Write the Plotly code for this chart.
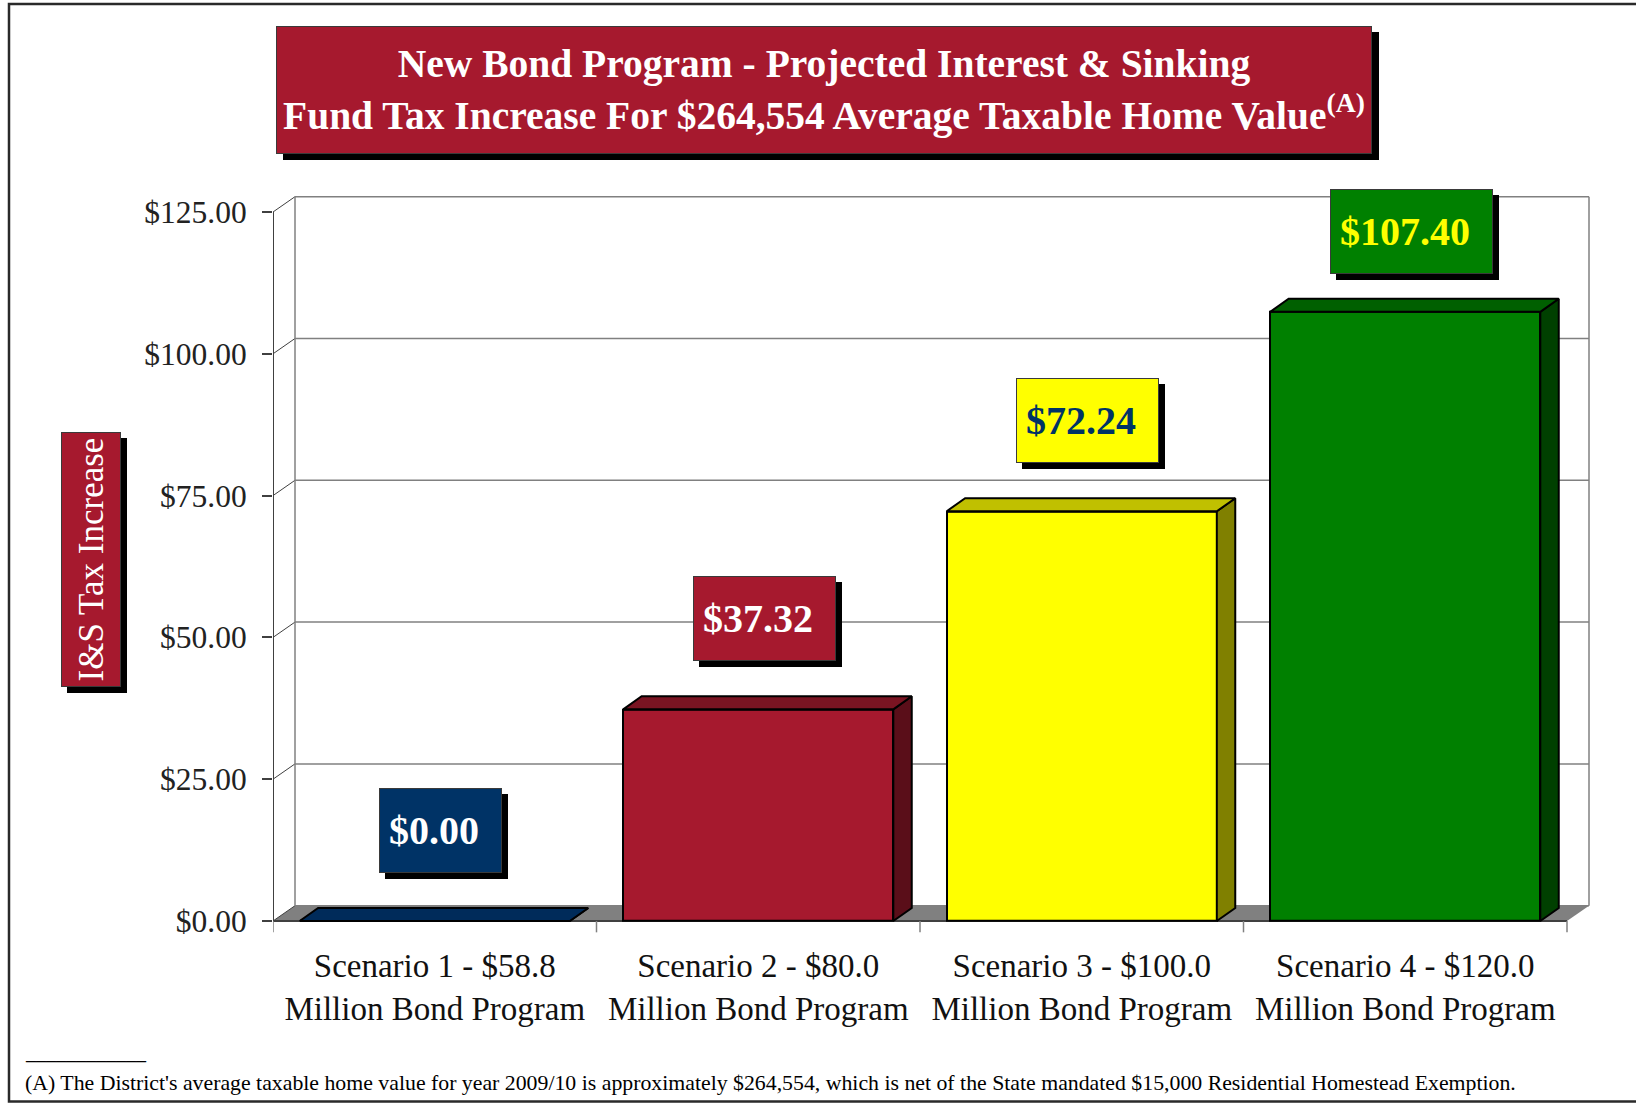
import plotly.graph_objects as go

# ---------------- data ----------------
categories = [
    "Scenario 1 - $58.8<br>Million Bond Program",
    "Scenario 2 - $80.0<br>Million Bond Program",
    "Scenario 3 - $100.0<br>Million Bond Program",
    "Scenario 4 - $120.0<br>Million Bond Program",
]
values = [0.00, 37.32, 72.24, 107.40]
value_labels = ["$0.00", "$37.32", "$72.24", "$107.40"]
y_ticks = [0, 25, 50, 75, 100, 125]
y_tick_labels = ["$0.00", "$25.00", "$50.00", "$75.00", "$100.00", "$125.00"]

title_line1 = "New Bond Program - Projected Interest & Sinking"
title_line2 = "Fund Tax Increase For $264,554 Average Taxable Home Value"
y_title = "I&S Tax Increase"
footnote = ("(A) The District's average taxable home value for year 2009/10 is approximately "
            "$264,554, which is net of the State mandated $15,000 Residential Homestead Exemption.")

# ---------------- styles ----------------
front_colors = ["#002B5A", "#A6192E", "#FFFF00", "#008000"]
top_colors = ["#002B5A", "#7A1422", "#C0C000", "#006000"]
side_colors = ["#001A36", "#5A0E19", "#808000", "#004000"]
label_bg = ["#003366", "#A6192E", "#FFFF00", "#008000"]
label_fg = ["#FFFFFF", "#FFFFFF", "#003366", "#FFFF00"]
CRIMSON = "#A6192E"
SERIF = "Liberation Serif"

W = 0.835      # bar width (category units)
BDX, BDY = 0.057, 2.3   # bar depth offset
WDX, WDY = 0.068, 2.7   # wall depth offset
FIG_W, FIG_H = 1636, 1103

n = len(categories)
xs_idx = list(range(n))

fig = go.Figure()

# front faces of the bars
fig.add_trace(go.Bar(
    x=xs_idx, y=values, width=W,
    marker=dict(color=front_colors, line=dict(color="black", width=2)),
    hoverinfo="skip", showlegend=False,
))

# tops and sides of bars (3D look), derived from values
for i, v in enumerate(values):
    l, r = i - W / 2, i + W / 2
    fig.add_trace(go.Scatter(
        x=[r, r + BDX, r + BDX, r, r], y=[0, BDY, v + BDY, v, 0],
        mode="lines", fill="toself", fillcolor=side_colors[i],
        line=dict(color="black", width=2), hoverinfo="skip", showlegend=False))
    fig.add_trace(go.Scatter(
        x=[l, r, r + BDX, l + BDX, l], y=[v, v, v + BDY, v + BDY, v],
        mode="lines", fill="toself", fillcolor=top_colors[i],
        line=dict(color="black", width=2), hoverinfo="skip", showlegend=False))

shapes = []
x_lo, x_hi = -0.5, n - 0.5
ymax = y_ticks[-1]
# floor
shapes.append(dict(
    type="path", xref="x", yref="y", layer="below",
    path=f"M {x_lo},0 L {x_hi},0 L {x_hi + WDX},{WDY} L {x_lo + WDX},{WDY} Z",
    fillcolor="#808080", line=dict(width=0)))
# back wall gridlines and side diagonals
for v in y_ticks:
    shapes.append(dict(type="line", xref="x", yref="y", layer="below",
                       x0=x_lo + WDX, x1=x_hi + WDX, y0=v + WDY, y1=v + WDY,
                       line=dict(color="#808080", width=1.5)))
    shapes.append(dict(type="line", xref="x", yref="y", layer="below",
                       x0=x_lo, x1=x_lo + WDX, y0=v, y1=v + WDY,
                       line=dict(color="#404040", width=1)))
# back wall vertical edges
for xb in (x_lo + WDX, x_hi + WDX):
    shapes.append(dict(type="line", xref="x", yref="y", layer="below",
                       x0=xb, x1=xb, y0=WDY, y1=ymax + WDY,
                       line=dict(color="#808080", width=1.5)))
# front axis lines
shapes.append(dict(type="line", xref="x", yref="y", layer="below",
                   x0=x_lo, x1=x_lo, y0=0, y1=ymax, line=dict(color="#404040", width=2)))
shapes.append(dict(type="line", xref="x", yref="y", layer="below",
                   x0=x_lo, x1=x_hi, y0=0, y1=0, line=dict(color="#404040", width=2)))
# category boundary ticks
for k in range(n + 1):
    b = x_lo + k
    shapes.append(dict(type="line", xref="x", yref="y", layer="below",
                       x0=b, x1=b, y0=0, y1=-2, line=dict(color="#808080", width=1.5)))
# outer border
shapes.append(dict(type="rect", xref="paper", yref="paper",
                   x0=9 / FIG_W, x1=1.01, y0=1.5 / FIG_H, y1=1 - 4 / FIG_H,
                   line=dict(color="#2a2a2a", width=2.5)))

annotations = []


def px(xp):
    return xp / FIG_W


def py(yp):
    return 1 - yp / FIG_H


# title box (shadow + box)
title_text = f"<b>{title_line1}<br>{title_line2}<sup>(A)</sup></b>"
for shadow in (True, False):
    annotations.append(dict(
        xref="paper", yref="paper", x=px(824), y=py(90),
        xanchor="center", yanchor="middle",
        text=title_text, showarrow=False,
        font=dict(family=SERIF, size=39.5, color="black" if shadow else "white"),
        bgcolor="black" if shadow else CRIMSON,
        bordercolor="black" if shadow else "#3a3a3a", borderwidth=1, borderpad=0,
        width=1094, height=126, align="center", valign="middle",
        xshift=7 if shadow else 0, yshift=-6 if shadow else 0))

# y-axis title box
for shadow in (True, False):
    annotations.append(dict(
        xref="paper", yref="paper", x=px(91), y=py(560),
        xanchor="center", yanchor="middle",
        text=y_title, showarrow=False, textangle=-90,
        font=dict(family=SERIF, size=35, color="black" if shadow else "white"),
        bgcolor="black" if shadow else CRIMSON,
        bordercolor="black" if shadow else "#3a3a3a", borderwidth=1, borderpad=0,
        width=253, height=58, align="center", valign="middle",
        xshift=6 if shadow else 0, yshift=-6 if shadow else 0))

# value label boxes
for i, (v, lab) in enumerate(zip(values, value_labels)):
    tw = sum(10 if ch == "." else 20 for ch in lab)
    for shadow in (True, False):
        annotations.append(dict(
            xref="x", yref="y", x=i, y=min(v + 8.5, 114),
            xanchor="center", yanchor="bottom",
            text=f"<b>{lab}</b>", showarrow=False,
            font=dict(family=SERIF, size=40, color="black" if shadow else label_fg[i]),
            bgcolor="black" if shadow else label_bg[i],
            bordercolor="black" if shadow else "#3a3a3a", borderwidth=1, borderpad=9,
            width=tw + 13, height=65, align="left", valign="middle",
            xshift=6 + (6 if shadow else 0), yshift=-6 if shadow else 0))

# footnote
annotations.append(dict(
    xref="paper", yref="paper", x=px(23), y=py(1052), xanchor="left", yanchor="middle",
    text="____________", showarrow=False, font=dict(family=SERIF, size=20, color="black")))
annotations.append(dict(
    xref="paper", yref="paper", x=px(23), y=py(1083), xanchor="left", yanchor="middle",
    text=footnote, showarrow=False, font=dict(family=SERIF, size=21.8, color="black")))

# axes geometry: x unit = 323.5 px starting at 273 px; y unit = 5.672 px, y=0 at 921 px
x_range = [-0.5, 3.6]
y_range = [-3, 130]
x_left_px = 273
x_unit = 323.5
y0_px = 921
y_unit = 5.672
x_dom = [px(x_left_px), px(x_left_px + (x_range[1] - x_range[0]) * x_unit)]
y_dom = [py(y0_px - y_range[0] * y_unit), py(y0_px - y_range[1] * y_unit)]

fig.update_layout(
    width=FIG_W, height=FIG_H,
    margin=dict(l=0, r=0, t=0, b=0),
    paper_bgcolor="white", plot_bgcolor="white",
    showlegend=False,
    bargap=0,
    shapes=shapes, annotations=annotations,
    xaxis=dict(range=x_range, domain=x_dom, tickvals=xs_idx, ticktext=categories,
               ticks="", showgrid=False, zeroline=False, showline=False,
               tickfont=dict(family=SERIF, size=33, color="#111111"),
               ticklabelstandoff=5, fixedrange=True),
    yaxis=dict(range=y_range, domain=y_dom, tickvals=y_ticks, ticktext=y_tick_labels,
               ticks="outside", ticklen=10, tickwidth=1.5, tickcolor="#404040",
               showgrid=False, zeroline=False, showline=False,
               tickfont=dict(family=SERIF, size=31.5, color="#222222"),
               ticklabelstandoff=9, fixedrange=True),
)

fig.write_html("out.html")
